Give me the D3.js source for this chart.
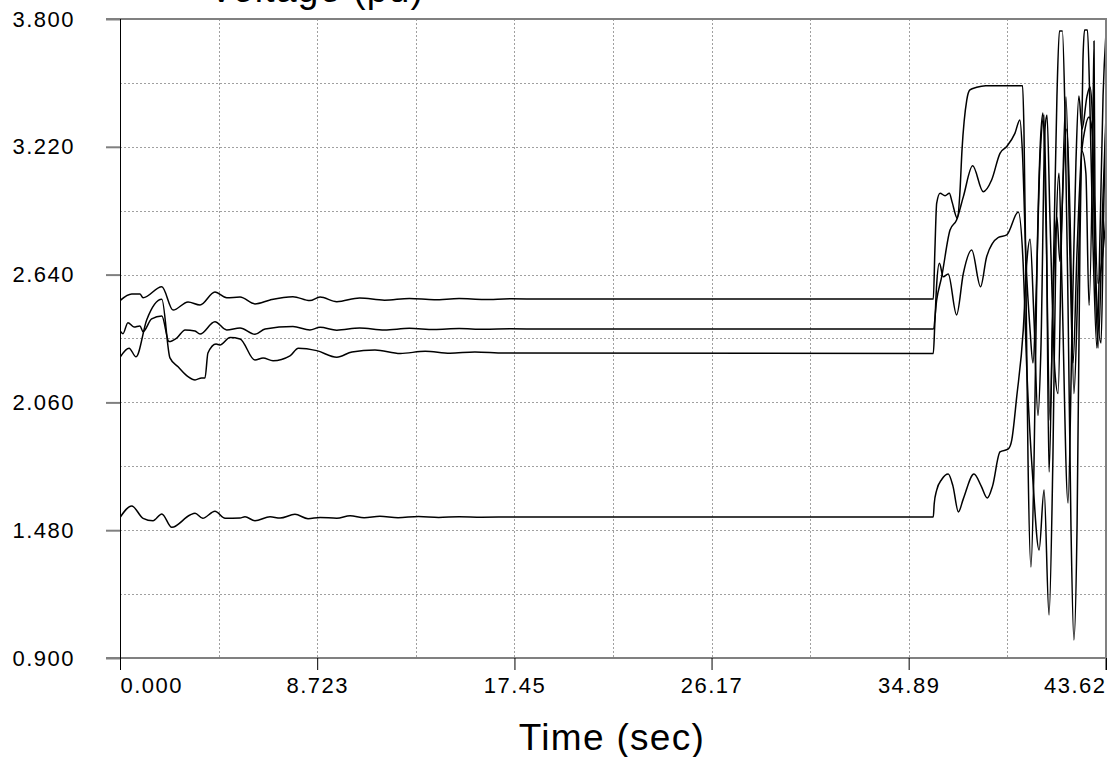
<!DOCTYPE html>
<html>
<head>
<meta charset="utf-8">
<script src="https://cdn.jsdelivr.net/npm/d3@7"></script>
<style>
  html, body { margin: 0; padding: 0; background: #fff; }
  svg { display: block; }
  text { font-family: "Liberation Sans", Arial, sans-serif; fill: #000; }
</style>
</head>
<body>
<svg id="chart" width="1109" height="757"></svg>
<script>
// Axis ticks
const timeTicks = [0, 8.723, 17.45, 26.17, 34.89, 43.62];
const timeTickLabels = ["0.000", "8.723", "17.45", "26.17", "34.89", "43.62"];
const voltTicks = [0.9, 1.48, 2.06, 2.64, 3.22, 3.8];
const voltTickLabels = ["0.900", "1.480", "2.060", "2.640", "3.220", "3.800"];

// Bus voltage traces, [time (s), voltage (pu)]
const busA = [
  [0,2.522],[0.52,2.552],[0.88,2.552],[1.02,2.535],[1.85,2.585],[2.35,2.479],[3.01,2.516],[3.54,2.502],
  [4.20,2.561],[4.72,2.535],[5.31,2.538],[5.97,2.507],[6.64,2.525],[7.65,2.540],[8.40,2.522],[8.85,2.538],
  [9.59,2.517],[10.6,2.534],[11.7,2.524],[12.8,2.532],[13.9,2.526],[15.0,2.531],[16.1,2.527],[17.3,2.530],
  [18.5,2.529],[35.98,2.529],
  [36.05,2.75],[36.13,2.964],[36.28,3.009],[36.50,2.998],[36.69,3.009],[36.81,2.97],[37.04,2.896],[37.15,3.0],
  [37.25,3.206],[37.46,3.432],[37.60,3.478],[37.90,3.490],[38.30,3.497],[39.93,3.497],
  [39.99,3.30],[40.08,2.60],[40.17,1.80],[40.30,1.313],[40.43,1.75],[40.57,2.70],[40.70,3.20],[40.83,3.373],
  [40.96,2.90],[41.14,1.980],[41.30,2.70],[41.45,3.45],[41.56,3.746],[41.69,3.746],[41.80,3.40],[41.94,2.50],
  [42.07,1.50],[42.20,0.982],[42.34,1.50],[42.47,2.80],[42.60,3.614],[42.67,3.750],[42.80,3.750],[42.91,3.40],
  [43.04,2.80],[43.22,2.307],[43.35,2.80],[43.49,3.45],[43.62,3.737]
];
const busB = [
  [0,2.385],[0.13,2.372],[0.35,2.422],[0.62,2.402],[0.88,2.407],[1.02,2.381],[1.40,2.439],[1.85,2.452],
  [2.17,2.336],[2.51,2.352],[2.88,2.389],[3.32,2.384],[3.54,2.370],[4.20,2.426],[4.72,2.389],[5.31,2.398],
  [5.97,2.369],[6.42,2.393],[7.65,2.404],[8.40,2.389],[8.85,2.401],[9.59,2.388],[10.6,2.398],[11.7,2.389],
  [12.8,2.396],[13.9,2.391],[15.0,2.395],[16.1,2.392],[17.3,2.394],[18.5,2.393],[35.98,2.393],
  [36.13,2.525],[36.35,2.630],[36.72,2.842],[37.01,2.888],[37.31,2.994],[37.72,3.134],[38.19,3.016],
  [38.56,3.069],[38.93,3.190],[39.23,3.221],[39.59,3.281],[39.81,3.342],
  [39.92,3.20],[40.08,2.706],[40.26,2.389],[40.39,2.239],[40.52,2.525],[40.70,3.160],[40.88,3.364],
  [40.99,2.80],[41.10,1.744],[41.27,2.50],[41.45,2.90],[41.58,2.70],[41.85,3.446],[42.03,2.70],[42.16,2.239],
  [42.34,2.75],[42.51,3.15],[42.69,3.30],[42.87,3.355],[43.00,3.30],[43.18,2.60],[43.40,2.330],[43.53,3.0],
  [43.62,3.328]
];
const busC = [
  [0,2.265],[0.40,2.306],[0.71,2.267],[1.18,2.434],[1.85,2.528],[2.21,2.262],[2.57,2.222],[3.01,2.177],
  [3.32,2.162],[3.61,2.171],[3.76,2.171],[3.89,2.284],[4.25,2.325],[4.42,2.321],[4.87,2.354],[5.31,2.348],
  [5.97,2.252],[6.33,2.262],[6.77,2.249],[7.52,2.271],[7.89,2.306],[8.70,2.295],[9.59,2.265],[10.26,2.289],
  [11.28,2.298],[12.4,2.282],[13.5,2.292],[14.6,2.283],[15.7,2.289],[17.0,2.284],[35.98,2.282],
  [36.04,2.40],[36.12,2.58],[36.25,2.691],[36.42,2.630],[36.64,2.643],[37.01,2.457],[37.31,2.646],
  [37.68,2.752],[38.07,2.585],[38.34,2.721],[38.86,2.809],[39.23,2.820],[39.74,2.924],
  [39.95,2.70],[40.12,2.20],[40.39,1.70],[40.66,1.390],[40.88,1.662],[41.10,1.095],[41.27,1.80],[41.41,2.80],
  [41.54,3.10],[41.67,2.60],[41.94,1.603],[42.12,2.40],[42.29,3.15],[42.42,3.45],[42.56,3.30],[42.78,3.45],
  [42.91,3.491],[43.00,3.40],[43.13,2.70],[43.27,2.307],[43.49,3.0],[43.62,3.36]
];
const busD = [
  [0,1.537],[0.52,1.590],[1.02,1.534],[1.46,1.523],[1.85,1.554],[2.29,1.493],[3.10,1.549],[3.32,1.557],
  [3.66,1.534],[4.20,1.566],[4.65,1.534],[5.31,1.535],[5.53,1.541],[5.97,1.523],[6.64,1.541],[7.08,1.535],
  [7.74,1.552],[8.32,1.532],[8.85,1.538],[9.59,1.534],[10.18,1.546],[10.8,1.537],[11.5,1.543],[12.3,1.537],
  [13.2,1.542],[14.1,1.538],[15.0,1.541],[16.0,1.539],[17.5,1.540],[35.98,1.540],
  [36.02,1.60],[36.13,1.662],[36.35,1.71],[36.64,1.735],[36.85,1.68],[37.09,1.563],[37.30,1.62],[37.78,1.735],
  [38.10,1.68],[38.37,1.626],[38.60,1.68],[38.93,1.835],[39.30,1.849],[39.45,1.889],[39.67,2.085],[39.96,2.389],
  [40.12,2.70],[40.26,2.80],[40.43,2.45],[40.61,2.0],[40.74,2.3],[40.92,3.30],[41.01,3.364],[41.14,2.9],
  [41.36,2.2],[41.50,2.1],[41.67,2.9],[41.89,3.3],[42.03,2.9],[42.20,2.1],[42.38,2.6],[42.56,3.2],[42.73,3.1],
  [42.87,2.5],[43.04,3.3],[43.09,3.70],[43.13,3.0],[43.27,2.6],[43.44,2.7],[43.62,2.9]
];
const traces = [busA, busB, busC, busD];

const xTitle = "Time (sec)";
const topTitle = "Voltage (pu)";

// Layout
const plot = { left: 120, right: 1106, top: 19, bottom: 658 };
const svg = d3.select("#chart");

const x = d3.scaleLinear().domain([0, 43.62]).range([plot.left, plot.right]);
const y = d3.scaleLinear().domain([0.9, 3.8]).range([plot.bottom, plot.top]);

// Grid: major ticks plus the half-step lines between them
const halves = a => d3.pairs(a).map(([p, q]) => (p + q) / 2);
const xGrid = timeTicks.slice(1, -1).concat(halves(timeTicks));
const yGrid = voltTicks.slice(1, -1).concat(halves(voltTicks));

const grid = svg.append("g")
  .attr("stroke", "#a0a0a0")
  .attr("stroke-width", 1)
  .attr("stroke-dasharray", "2,2")
  .attr("shape-rendering", "crispEdges");
grid.selectAll("line.v").data(xGrid).join("line").attr("class", "v")
  .attr("x1", d => Math.round(x(d)) + 0.5).attr("x2", d => Math.round(x(d)) + 0.5)
  .attr("y1", plot.top).attr("y2", plot.bottom);
grid.selectAll("line.h").data(yGrid).join("line").attr("class", "h")
  .attr("y1", d => Math.round(y(d)) + 0.5).attr("y2", d => Math.round(y(d)) + 0.5)
  .attr("x1", plot.left).attr("x2", plot.right);

// Traces
const line = d3.line()
  .x(d => x(d[0]))
  .y(d => y(d[1]))
  .curve(d3.curveMonotoneX);

svg.append("defs").append("clipPath").attr("id", "plotclip")
  .append("rect").attr("x", plot.left).attr("y", plot.top)
  .attr("width", plot.right - plot.left).attr("height", plot.bottom - plot.top);

svg.append("g").attr("clip-path", "url(#plotclip)")
  .selectAll("path").data(traces).join("path")
  .attr("d", line)
  .attr("fill", "none")
  .attr("stroke", "#000")
  .attr("stroke-width", 1.5)
  .attr("stroke-linejoin", "round");

// Frame: grey top / bottom / right, black left axis
const frame = svg.append("g").attr("stroke", "#808080").attr("stroke-width", 2);
frame.append("line").attr("x1", 106).attr("x2", plot.right).attr("y1", y(3.8)).attr("y2", y(3.8));
frame.append("line").attr("x1", 106).attr("x2", plot.right).attr("y1", y(0.9)).attr("y2", y(0.9));
frame.append("line").attr("x1", plot.right).attr("x2", plot.right).attr("y1", plot.top - 1).attr("y2", plot.bottom + 12);

// Y axis ticks and labels
const yAxis = d3.axisLeft(y).tickValues(voltTicks)
  .tickFormat((d, i) => voltTickLabels[i]).tickSize(14).tickPadding(31);
const gy = svg.append("g").attr("transform", `translate(${plot.left},0)`).call(yAxis);
gy.select(".domain").remove();
gy.selectAll(".tick line").attr("stroke", "#808080").attr("stroke-width", 2);
gy.selectAll(".tick text")
  .attr("font-size", 22).attr("letter-spacing", "1.5px")
  .attr("font-family", "Liberation Sans, Arial, sans-serif").attr("fill", "#000");

svg.append("line")
  .attr("x1", plot.left + 0.5).attr("x2", plot.left + 0.5)
  .attr("y1", plot.top).attr("y2", plot.bottom + 12)
  .attr("stroke", "#000").attr("stroke-width", 1);

// X axis ticks and labels
const xAxis = d3.axisBottom(x).tickValues(timeTicks)
  .tickFormat((d, i) => timeTickLabels[i]).tickSize(12).tickPadding(7);
const gx = svg.append("g").attr("transform", `translate(0,${plot.bottom})`).call(xAxis);
gx.select(".domain").remove();
gx.selectAll(".tick line").attr("stroke", "#000").attr("stroke-width", 1);
gx.selectAll(".tick text")
  .attr("font-size", 22).attr("letter-spacing", "1.5px")
  .attr("font-family", "Liberation Sans, Arial, sans-serif").attr("fill", "#000")
  .attr("text-anchor", (d, i) => i === 0 ? "start" : (i === timeTicks.length - 1 ? "end" : "middle"));

// Axis titles
svg.append("text")
  .attr("x", 612).attr("y", 750)
  .attr("text-anchor", "middle")
  .attr("font-size", 37).attr("letter-spacing", "1.3px")
  .text(xTitle);

svg.append("text")
  .attr("x", 209).attr("y", 2)
  .attr("font-size", 37).attr("letter-spacing", "1.3px")
  .text(topTitle);
</script>
</body>
</html>
